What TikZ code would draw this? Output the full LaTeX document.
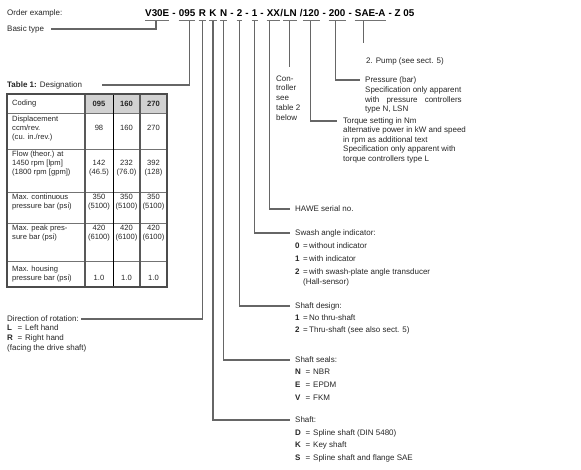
\documentclass[tikz,border=0pt]{standalone}
\usepackage{fontspec}
\setmainfont{Liberation Sans}
\usetikzlibrary{calc}
\newcommand\kv[1]{\makebox[8pt][l]{\textbf{#1}}=\,}
\newcommand\ks[1]{\makebox[10.5pt][l]{\textbf{#1}}\makebox[7.5pt][l]{=}}
\newcommand\gap{\kern.278em}

\begin{document}
\begin{tikzpicture}[x=1pt,y=-1pt,
    code/.style={font=\fontsize{9.85}{12}\selectfont\bfseries,inner sep=0pt,anchor=base west},
    lbl/.style={font=\fontsize{8}{9.7}\selectfont,inner sep=0pt,anchor=west,text=black!85},
    blk/.style={lbl,anchor=north west,align=left},
    itm/.style={blk,font=\fontsize{8}{12.8}\selectfont},
    tab/.style={font=\fontsize{7.6}{9.2}\selectfont,inner sep=0pt,anchor=north west,align=left,text=black!85},
    val/.style={tab,anchor=north,align=center},
    conn/.style={draw=black!60,line width=1.1pt},
    uline/.style={draw=black!55,line width=1pt},
    tline/.style={draw=black!55,line width=0.9pt}]
    \useasboundingbox (0,0) rectangle (581,470);
    % order code
    \node[lbl] (order) at (7,13) {Order example:};
    \node[code] (cV) at (145,17) {V30E};
    \node[code] (s1) at (cV.base east) {\gap-\gap};
    \node[code] (c095) at (s1.base east) {095};
    \node[code] (s2) at (c095.base east) {\gap};
    \node[code] (cR) at (s2.base east) {R};
    \node[code] (s3) at (cR.base east) {\gap};
    \node[code] (cK) at (s3.base east) {K};
    \node[code] (s4) at (cK.base east) {\gap};
    \node[code] (cN) at (s4.base east) {N};
    \node[code] (s5) at (cN.base east) {\gap-\gap};
    \node[code] (cTwo) at (s5.base east) {2};
    \node[code] (s6) at (cTwo.base east) {\gap-\gap};
    \node[code] (cOne) at (s6.base east) {1};
    \node[code] (s7) at (cOne.base east) {\gap-\gap};
    \node[code] (cXX) at (s7.base east) {XX};
    \node[code] (s8) at (cXX.base east) {/};
    \node[code] (cLN) at (s8.base east) {LN};
    \node[code] (s9) at (cLN.base east) {\gap/};
    \node[code] (c120) at (s9.base east) {120};
    \node[code] (s10) at (c120.base east) {\gap-\gap};
    \node[code] (c200) at (s10.base east) {200};
    \node[code] (s11) at (c200.base east) {\gap-\gap};
    \node[code] (cSAE) at (s11.base east) {SAE-A};
    \node[code] (s12) at (cSAE.base east) {\gap-\gap Z\gap 05};
    \foreach \t in {cV,c095,cR,cK,cN,cTwo,cOne,cXX,cLN,c120,c200,cSAE}
        \draw[uline] ([yshift=-4pt]\t.base west) -- ([yshift=-4pt]\t.base east);
    \foreach \t/\f in {cV/0.45,c095/0.67,cR/0.5,cK/0.5,cN/0.5,cTwo/0.5,cOne/0.5,cXX/0.18,cLN/0.43,c120/0.44,c200/0.41,cSAE/0.27}
        \coordinate (p\t) at ($([yshift=-4pt]\t.base west)!\f!([yshift=-4pt]\t.base east)$);

    % labels
    \node[lbl] (basic) at (7,29) {Basic type};
    \node[lbl] (tabt) at (7,85) {\textbf{Table 1:} Designation};
    \node[lbl] (pump) at (366,61) {2. Pump (see sect. 5)};
    \node[blk] (ctrl) at (276,75.5) {Con-\\troller\\see\\table 2\\below};
    \node[lbl] (press) at (365,80) {Pressure (bar)};
    \node[blk] (pressT) at (365,86.5) {Specification only apparent\\\makebox[96.5pt][s]{with pressure controllers}\\type N, LSN};
    \node[lbl] (torq) at (343,121) {Torque setting in Nm};
    \node[blk] (torqT) at (343,126.5) {alternative power in kW and speed\\in rpm as additional text\\Specification only apparent with\\torque controllers type L};
    \node[lbl] (hawe) at (295,209) {HAWE serial no.};
    \node[lbl] (swash) at (295,233) {Swash angle indicator:};
    \node[itm] (swashK) at (295,243) {\kv{0}without indicator\\\kv{1}with indicator\\\kv{2}with swash-plate angle transducer\\[-2.5pt]\hspace*{8pt}(Hall-sensor)};
    \node[lbl] (sdes) at (295,306) {Shaft design:};
    \node[itm] (sdesK) at (295,314.2) {\kv{1}No thru-shaft\\\kv{2}Thru-shaft (see also sect. 5)};
    \node[lbl] (seal) at (295,360) {Shaft seals:};
    \node[itm] (sealK) at (295,369.2) {\ks{N}NBR\\\ks{E}EPDM\\\ks{V}FKM};
    \node[lbl] (shaft) at (295,420) {Shaft:};
    \node[itm] (shaftK) at (295,429.2) {\ks{D}Spline shaft (DIN 5480)\\\ks{K}Key shaft\\\ks{S}Spline shaft and flange SAE};
    \node[lbl] (dir) at (7,319) {Direction of rotation:};
    \node[blk,font=\fontsize{8}{10}\selectfont] (dirK) at (7,324.2) {\ks{L}Left hand\\\ks{R}Right hand\\(facing the drive shaft)};

    % connectors
    \draw[conn,shorten >=7pt] (pcV) |- (basic);
    \draw[conn,shorten >=20pt] (pc095) |- (tabt);
    \draw[conn,shorten >=2pt] (pcR) |- (dir);
    \draw[conn,shorten >=5pt] (pcK) |- (shaft);
    \draw[conn,shorten >=5pt] (pcN) |- (seal);
    \draw[conn,shorten >=5pt] (pcTwo) |- (sdes);
    \draw[conn,shorten >=5pt] (pcOne) |- (swash);
    \draw[conn,shorten >=5pt] (pcXX) |- (hawe);
    \draw[conn,shorten >=8pt] (pcLN) -- (pcLN |- ctrl.north);
    \draw[conn,shorten >=6pt] (pc120) |- (torq);
    \draw[conn,shorten >=5pt] (pc200) |- (press);
    \draw[conn,shorten >=14pt] (pcSAE) -- (pcSAE |- pump.north);

    % table 1
    \fill[black!18] (85,94) rectangle (167,113);
    \foreach \y in {113,149,192,223,261}
        \draw[tline] (7,\y) -- (167,\y);
    \foreach \x in {85,140}
        \draw[tline,line width=1.1pt,draw=black!65] (\x,94) -- (\x,287);
    \draw[black,line width=0.7pt] (113,94) -- (113,287);
    \draw[draw=black!70,line width=1.2pt] (7,94) rectangle (167,287);
    \node[tab,anchor=west] (tCod) at (12,103.5) {Coding};
    \node[tab,anchor=center,font=\fontsize{7.6}{9.2}\selectfont\bfseries] (h095) at (99,104) {095};
    \node[tab,anchor=center,font=\fontsize{7.6}{9.2}\selectfont\bfseries] (h160) at (126.5,104) {160};
    \node[tab,anchor=center,font=\fontsize{7.6}{9.2}\selectfont\bfseries] (h270) at (153.5,104) {270};
    \node[tab] (tDis) at (12,115.5) {Displacement\\ccm/rev.\\(cu. in./rev.)};
    \node[tab,anchor=center] (vDisA) at (99,128) {98};
    \node[tab,anchor=center] (vDisB) at (126.5,128) {160};
    \node[tab,anchor=center] (vDisC) at (153.5,128) {270};
    \node[tab] (tFlow) at (12,150.5) {Flow (theor.) at\\1450 rpm [lpm]\\(1800 rpm [gpm])};
    \node[val] (vFlowA) at (99,159.5) {142\\(46.5)};
    \node[val] (vFlowB) at (126.5,159.5) {232\\(76.0)};
    \node[val] (vFlowC) at (153.5,159.5) {392\\(128)};
    \node[tab] (tCon) at (12,193.5) {Max. continuous\\pressure bar (psi)};
    \node[val] (vConA) at (99,193.5) {350\\(5100)};
    \node[val] (vConB) at (126.5,193.5) {350\\(5100)};
    \node[val] (vConC) at (153.5,193.5) {350\\(5100)};
    \node[tab] (tPeak) at (12,224.5) {Max. peak pres-\\sure bar (psi)};
    \node[val] (vPeakA) at (99,224.5) {420\\(6100)};
    \node[val] (vPeakB) at (126.5,224.5) {420\\(6100)};
    \node[val] (vPeakC) at (153.5,224.5) {420\\(6100)};
    \node[tab] (tHou) at (12,265.5) {Max. housing\\pressure bar (psi)};
    \node[tab,anchor=center] (vHouA) at (99,278) {1.0};
    \node[tab,anchor=center] (vHouB) at (126.5,278) {1.0};
    \node[tab,anchor=center] (vHouC) at (153.5,278) {1.0};
\end{tikzpicture}
\end{document}
